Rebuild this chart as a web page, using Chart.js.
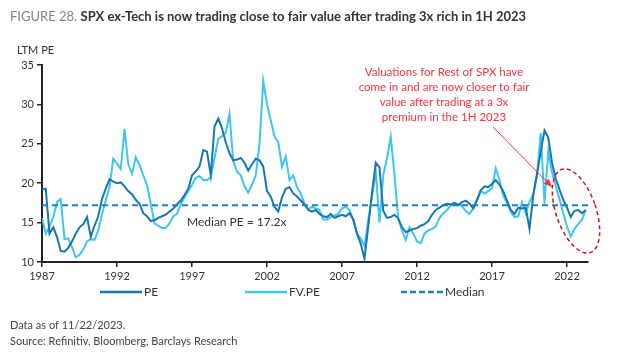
<!DOCTYPE html>
<html>
<head>
<meta charset="utf-8">
<script src="https://cdn.jsdelivr.net/npm/chart.js@4.4.0/dist/chart.umd.min.js"></script>
<style>
  html, body { margin: 0; padding: 0; background: #fff; }
  #wrap { position: relative; width: 640px; height: 352px; }
</style>
</head>
<body>
<div id="wrap"><canvas id="peChart" width="640" height="352"></canvas></div>
<script>
// quarterly observations starting 1987 Q1
const startYear = 1987;
const stepYears = 0.25;

const peValues = [
    19.2, 19.3, 13.6, 14.4,   // 1987
    13.2, 11.4, 11.3, 11.8,   // 1988
    12.6, 13.6, 14.4, 14.8,   // 1989
    15.7, 13.2, 14.6, 15.8,   // 1990
    18.0, 19.3, 20.5, 20.2,   // 1991
    20.0, 20.1, 19.6, 19.0,   // 1992
    18.6, 17.9, 17.4, 16.2,   // 1993
    15.8, 15.2, 15.3, 15.6,   // 1994
    15.8, 16.0, 16.4, 16.8,   // 1995
    17.3, 17.8, 18.5, 19.3,   // 1996
    21.0, 21.5, 22.1, 24.2,   // 1997
    24.0, 21.0, 27.2, 28.2,   // 1998
    27.0, 25.2, 23.8, 22.9,   // 1999
    23.0, 23.2, 22.6, 21.6,   // 2000
    22.4, 23.1, 22.9, 22.1,   // 2001
    19.0, 18.3, 17.0, 16.4,   // 2002
    18.2, 19.3, 19.5, 18.7,   // 2003
    18.3, 17.8, 17.3, 16.6,   // 2004
    16.4, 16.6, 16.1, 15.8,   // 2005
    15.7, 16.1, 15.6, 15.8,   // 2006
    16.0, 15.8, 16.2, 15.4,   // 2007
    13.6, 12.3, 10.4, 14.5,   // 2008
    18.8, 22.6, 22.0, 16.5,   // 2009
    15.6, 15.7, 16.0, 15.5,   // 2010
    14.4, 13.8, 14.0, 14.2,   // 2011
    14.3, 14.6, 14.8, 15.2,   // 2012
    16.0, 16.6, 16.9, 17.2,   // 2013
    17.4, 17.3, 17.5, 17.2,   // 2014
    17.6, 17.8, 17.4, 16.8,   // 2015
    17.9, 19.1, 19.6, 19.5,   // 2016
    19.9, 20.4, 19.8, 19.0,   // 2017
    17.8, 16.6, 16.1, 16.9,   // 2018
    16.8, 16.9, 14.2, 18.5,   // 2019
    21.2, 24.0, 26.7, 25.8,   // 2020
    22.6, 20.6, 19.2, 17.9,   // 2021
    16.9, 15.7, 16.5, 16.6,   // 2022
    16.2, 16.6                // 2023
];

const fvPeValues = [
    15.6, 13.6, 14.5, 15.7,   // 1987
    17.6, 18.0, 12.9, 13.0,   // 1988
    11.9, 10.6, 10.9, 11.6,   // 1989
    12.6, 12.9, 12.8, 14.0,   // 1990
    16.1, 17.8, 19.5, 23.1,   // 1991
    22.5, 21.8, 26.9, 22.4,   // 1992
    21.2, 23.3, 22.3, 21.0,   // 1993
    19.8, 17.4, 14.9, 14.6,   // 1994
    14.3, 14.3, 14.9, 15.8,   // 1995
    16.1, 17.3, 18.2, 19.0,   // 1996
    19.8, 20.7, 20.9, 20.4,   // 1997
    20.4, 20.7, 23.2, 25.6,   // 1998
    26.0, 26.4, 28.8, 22.8,   // 1999
    21.5, 21.0, 19.6, 18.8,   // 2000
    19.8, 21.0, 25.0, 33.0,   // 2001
    30.0, 28.0, 25.9, 25.2,   // 2002
    22.1, 23.4, 20.4, 21.0,   // 2003
    19.5, 18.7, 17.4, 16.7,   // 2004
    17.0, 16.8, 16.6, 15.4,   // 2005
    15.4, 15.7, 15.9, 16.1,   // 2006
    16.8, 17.0, 16.6, 15.4,   // 2007
    13.6, 13.0, 12.0, 15.3,   // 2008
    18.3, 21.5, 15.0, 21.0,   // 2009
    23.2, 25.9, 21.0, 15.5,   // 2010
    14.0, 12.8, 14.4, 13.6,   // 2011
    12.6, 12.4, 13.6, 14.0,   // 2012
    14.2, 14.5, 15.6, 16.2,   // 2013
    16.6, 17.2, 17.4, 17.4,   // 2014
    17.1, 16.5, 16.1, 16.8,   // 2015
    17.8, 19.0, 18.7, 19.0,   // 2016
    19.4, 21.9, 20.4, 18.4,   // 2017
    17.5, 16.4, 15.7, 15.8,   // 2018
    17.6, 16.2, 17.6, 18.6,   // 2019
    21.0, 26.4, 17.4, 24.0,   // 2020
    21.4, 19.6, 18.0, 16.2,   // 2021
    14.5, 13.2, 14.2, 14.8,   // 2022
    15.4, 16.6                // 2023
];

const medianPe = 17.2;
const xTickYears = [1987, 1992, 1997, 2002, 2007, 2012, 2017, 2022];
const yTicks = [10, 15, 20, 25, 30, 35];
const xEnd = 2023.4;

const noteLines = [
    'Valuations for Rest of SPX have',
    'come in and are now closer to fair',
    'value after trading at a 3x',
    'premium in the 1H 2023'
];

const PE_COLOR = '#1677b3';
const FV_COLOR = '#3fc6f0';
const MED_COLOR = '#1f7fc1';
const FONT = 'Lato, "Open Sans", sans-serif';

function toPoints(values) {
    return values.map((v, i) => ({ x: startYear + i * stepYears, y: v }));
}

const decorations = {
    id: 'decorations',
    afterDraw(chart) {
        const ctx = chart.ctx;
        const xs = chart.scales.x;
        const ys = chart.scales.y;
        ctx.save();

        // title
        ctx.textBaseline = 'middle';
        ctx.textAlign = 'left';
        ctx.font = '13px ' + FONT;
        ctx.fillStyle = '#858585';
        const fig = 'FIGURE 28. ';
        ctx.fillText(fig, 10, 17);
        const w = ctx.measureText(fig).width;
        ctx.font = 'bold 13px ' + FONT;
        ctx.fillStyle = '#333';
        ctx.fillText('SPX ex-Tech is now trading close to fair value after trading 3x rich in 1H 2023', 10 + w, 17);

        // axis title
        ctx.font = '11px ' + FONT;
        ctx.fillStyle = '#333';
        ctx.fillText('LTM PE', 17, 50);

        // median label
        ctx.font = '12px ' + FONT;
        ctx.fillText('Median PE = 17.2x', 187, 222);

        // annotation text
        ctx.fillStyle = '#f5333f';
        ctx.font = '11.5px ' + FONT;
        ctx.textAlign = 'center';
        noteLines.forEach((t, i) => ctx.fillText(t, 444, 72 + i * 15));

        // arrow
        const ax0 = 493, ay0 = 127, ax1 = 552, ay1 = 187;
        ctx.strokeStyle = '#f5333f';
        ctx.fillStyle = '#f5333f';
        ctx.lineWidth = 1;
        ctx.beginPath();
        ctx.moveTo(ax0, ay0);
        ctx.lineTo(ax1, ay1);
        ctx.stroke();
        const ang = Math.atan2(ay1 - ay0, ax1 - ax0);
        ctx.beginPath();
        ctx.moveTo(ax1, ay1);
        ctx.lineTo(ax1 - 9 * Math.cos(ang - 0.4), ay1 - 9 * Math.sin(ang - 0.4));
        ctx.lineTo(ax1 - 9 * Math.cos(ang + 0.4), ay1 - 9 * Math.sin(ang + 0.4));
        ctx.closePath();
        ctx.fill();

        // dashed ellipse
        ctx.strokeStyle = '#c8141e';
        ctx.lineWidth = 1.5;
        ctx.setLineDash([4, 3]);
        ctx.beginPath();
        ctx.ellipse(576, 211, 20, 44, -0.33, 0, Math.PI * 2);
        ctx.stroke();
        ctx.setLineDash([]);

        // legend
        ctx.textAlign = 'left';
        ctx.font = '12px ' + FONT;
        const ly = 292;
        const items = [
            { x: 100, label: 'PE', color: PE_COLOR, dash: [] },
            { x: 245, label: 'FV.PE', color: FV_COLOR, dash: [] },
            { x: 401, label: 'Median', color: MED_COLOR, dash: [6, 3] }
        ];
        items.forEach(it => {
            ctx.strokeStyle = it.color;
            ctx.lineWidth = 2.5;
            ctx.setLineDash(it.dash);
            ctx.beginPath();
            ctx.moveTo(it.x, ly);
            ctx.lineTo(it.x + 42, ly);
            ctx.stroke();
            ctx.setLineDash([]);
            ctx.fillStyle = '#333';
            ctx.fillText(it.label, it.x + 44, ly);
        });

        // footer
        ctx.font = '11px ' + FONT;
        ctx.fillStyle = '#444';
        ctx.fillText('Data as of 11/22/2023.', 10, 325);
        ctx.fillText('Source: Refinitiv, Bloomberg, Barclays Research', 10, 341);

        ctx.restore();
    }
};

const ctx = document.getElementById('peChart').getContext('2d');
new Chart(ctx, {
    type: 'line',
    data: {
        datasets: [
            {
                label: 'Median',
                data: [{ x: startYear, y: medianPe }, { x: xEnd, y: medianPe }],
                borderColor: MED_COLOR,
                borderWidth: 2,
                borderDash: [6, 4],
                pointRadius: 0
            },
            {
                label: 'PE',
                data: toPoints(peValues),
                borderColor: PE_COLOR,
                borderWidth: 2,
                pointRadius: 0
            },
            {
                label: 'FV.PE',
                data: toPoints(fvPeValues),
                borderColor: FV_COLOR,
                borderWidth: 2,
                pointRadius: 0
            }
        ]
    },
    options: {
        responsive: false,
        animation: false,
        layout: { padding: { left: 0, right: 52, top: 65, bottom: 70 } },
        plugins: { legend: { display: false }, tooltip: { enabled: false } },
        scales: {
            x: {
                type: 'linear',
                min: startYear,
                max: xEnd,
                afterBuildTicks: s => { s.ticks = xTickYears.map(v => ({ value: v })); },
                afterFit: s => { s.height = 20; },
                grid: { drawOnChartArea: false, color: '#222', tickLength: 5, lineWidth: 1.5 },
                border: { color: '#222', width: 2 },
                ticks: {
                    color: '#333', font: { family: FONT, size: 11 }, padding: 3,
                    maxRotation: 0, autoSkip: false, callback: v => String(v)
                }
            },
            y: {
                min: 10,
                max: 35,
                afterBuildTicks: s => { s.ticks = yTicks.map(v => ({ value: v })); },
                afterFit: s => { s.width = 42; },
                grid: { drawOnChartArea: false, color: '#222', tickLength: 5, lineWidth: 1.5 },
                border: { color: '#222', width: 2 },
                ticks: { color: '#333', font: { family: FONT, size: 11 }, padding: 3 }
            }
        }
    },
    plugins: [decorations]
});
</script>
</body>
</html>
